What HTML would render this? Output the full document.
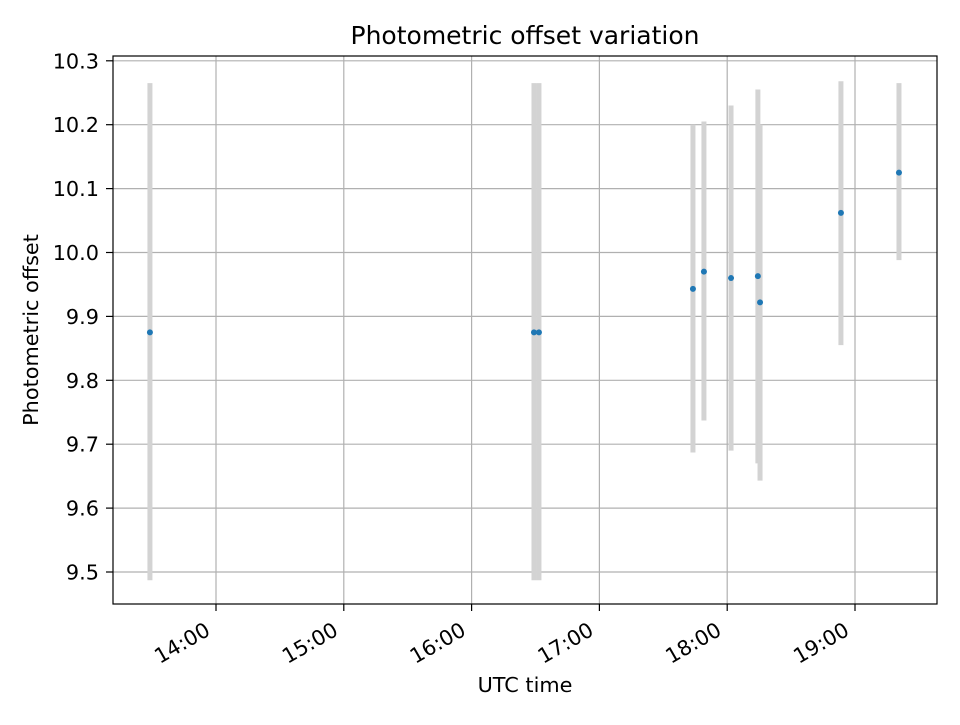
<!DOCTYPE html>
<html><head><meta charset="utf-8"><style>
body{margin:0;background:#fff;}
svg text{font-family:"DejaVu Sans","Liberation Sans",sans-serif;fill:#000;}
</style></head><body>
<svg id="chart" width="960" height="720" xmlns="http://www.w3.org/2000/svg">
<rect width="960" height="720" fill="#fff"/>
<g id="grid"></g>
<g id="bars"></g>
<g id="pts"></g>
<rect x="113" y="56" width="824" height="548" fill="none" stroke="#000" stroke-width="1.2"/>
<g id="axes"></g>
<text x="525" y="44" text-anchor="middle" font-size="25">Photometric offset variation</text>
<text x="525" y="692" text-anchor="middle" font-size="20.8">UTC time</text>
<text transform="translate(38,330) rotate(-90)" text-anchor="middle" font-size="20.8">Photometric offset</text>
</svg>
<script>
// times in hours UTC
const times = [13.483, 16.488, 16.527, 17.732, 17.818, 18.03, 18.24, 18.257, 18.89, 19.344];
const values = [9.875, 9.875, 9.875, 9.943, 9.97, 9.96, 9.963, 9.922, 10.062, 10.125];
const errLow = [9.487, 9.487, 9.487, 9.687, 9.737, 9.69, 9.67, 9.643, 9.855, 9.988];
const errHigh = [10.265, 10.265, 10.265, 10.2, 10.205, 10.23, 10.255, 10.2, 10.268, 10.265];
const xTicks = [14, 15, 16, 17, 18, 19];
const xTickLabels = ["14:00", "15:00", "16:00", "17:00", "18:00", "19:00"];
const yTicks = [9.5, 9.6, 9.7, 9.8, 9.9, 10.0, 10.1, 10.2, 10.3];

const X = h => 216 + (h - 14) * 127.8;
const Y = v => 572 - (v - 9.5) * 639;
const NS = "http://www.w3.org/2000/svg";
function mk(tag, attrs, parent) {
  const e = document.createElementNS(NS, tag);
  for (const k in attrs) e.setAttribute(k, attrs[k]);
  parent.appendChild(e);
  return e;
}
const grid = document.getElementById('grid'), axes = document.getElementById('axes');
const bars = document.getElementById('bars'), pts = document.getElementById('pts');
xTicks.forEach((t, i) => {
  const x = X(t);
  const gl = mk('line', {x1: x, x2: x, y1: 56, y2: 604, stroke: '#b0b0b0', 'stroke-width': 1.2}, grid);
  
  
  const tk = mk('line', {x1: x, x2: x, y1: 604, y2: 611, stroke: '#000', 'stroke-width': 1.2}, axes);
  
  
  const tx = mk('text', {transform: `translate(${x - 12},${621}) rotate(-30)`, 'text-anchor': 'end', 'font-size': 20.8, 'dominant-baseline': 'hanging'}, axes);
  tx.textContent = xTickLabels[i];
  
  
});
yTicks.forEach(t => {
  const y = Y(t);
  const gl = mk('line', {x1: 113, x2: 937, y1: y, y2: y, stroke: '#b0b0b0', 'stroke-width': 1.2}, grid);
  
  
  const tk = mk('line', {x1: 106, x2: 113, y1: y, y2: y, stroke: '#000', 'stroke-width': 1.2}, axes);
  
  
  const tx = mk('text', {x: 99, y: y + 7.5, 'text-anchor': 'end', 'font-size': 20.8}, axes);
  tx.textContent = t.toFixed(1);
  
  
});
times.forEach((t, i) => {
  const b = mk('line', {x1: X(t), x2: X(t), y1: Y(errLow[i]), y2: Y(errHigh[i]), stroke: '#d3d3d3', 'stroke-width': 5}, bars);
  
  
});
times.forEach((t, i) => {
  const c = mk('circle', {cx: X(t), cy: Y(values[i]), r: 3, fill: '#1f77b4'}, pts);
  
  
});
</script>
</body></html>
